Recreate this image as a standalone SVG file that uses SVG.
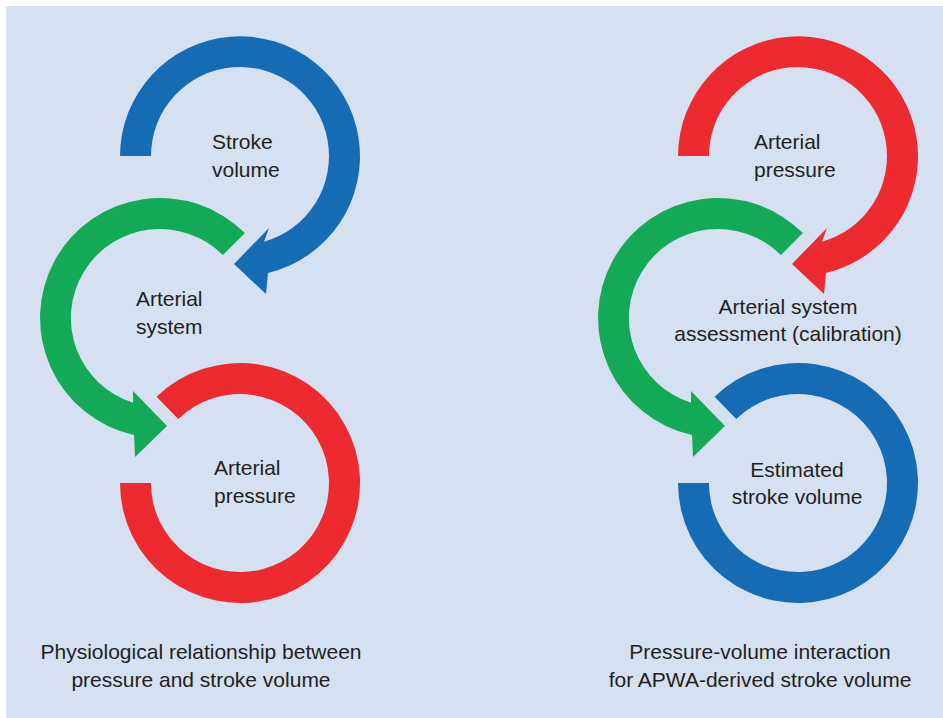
<svg xmlns="http://www.w3.org/2000/svg" width="943" height="718" viewBox="0 0 943 718">
<defs>
<style>
.bg{fill:#d5e0f1}
.blue{fill:#156cb4}
.green{fill:#13a956}
.red{fill:#ec2a2f}
text{font-family:"Liberation Sans",Arial,sans-serif;font-size:21px;fill:#231f20}
.c{text-anchor:middle}
</style>
<path id="topArrow" d="M 120,156 A 120 120 0 1 1 268,273 L 266,294 L 234,264 L 269,228 L 264,241.7 A 89 89 0 1 0 151,156 Z"/>
<path id="midArrow" d="M 244.9,233.1 A 120 120 0 1 0 134,435.1 L 135,457 L 167,426 L 133,391 L 133,402.8 A 89 89 0 1 1 222.9,255.1 Z"/>
<path id="bottomRing" d="M 120,483 A 120 120 0 1 0 156.6,396.7 L 178.2,419 A 89 89 0 1 1 151,483 Z"/>
</defs>
<rect x="0" y="0" width="943" height="718" fill="#ffffff"/>
<rect class="bg" x="6" y="6" width="937" height="712"/>
<g id="connectors">
<use href="#topArrow" class="blue"/>
<use href="#midArrow" class="green"/>
<use href="#bottomRing" class="red"/>
<use href="#topArrow" class="red" transform="translate(558,0)"/>
<use href="#midArrow" class="green" transform="translate(558,0)"/>
<use href="#bottomRing" class="blue" transform="translate(558,0)"/>
</g>
<g id="node-stroke-volume">
<text x="212" y="149">Stroke</text>
<text x="212" y="177">volume</text>
</g>
<g id="node-arterial-system">
<text x="136" y="306">Arterial</text>
<text x="136" y="334">system</text>
</g>
<g id="node-arterial-pressure">
<text x="214" y="475">Arterial</text>
<text x="214" y="503">pressure</text>
</g>
<g id="node-arterial-pressure-2">
<text x="754" y="149">Arterial</text>
<text x="754" y="177">pressure</text>
</g>
<g id="node-arterial-system-assessment">
<text class="c" x="788" y="314">Arterial system</text>
<text class="c" x="788" y="341">assessment (calibration)</text>
</g>
<g id="node-estimated-stroke-volume">
<text class="c" x="797" y="477">Estimated</text>
<text class="c" x="797" y="504">stroke volume</text>
</g>
<g id="caption-left">
<text class="c" x="201" y="659">Physiological relationship between</text>
<text class="c" x="201" y="687">pressure and stroke volume</text>
</g>
<g id="caption-right">
<text class="c" x="760" y="659">Pressure-volume interaction</text>
<text class="c" x="760" y="687">for APWA-derived stroke volume</text>
</g>
</svg>
